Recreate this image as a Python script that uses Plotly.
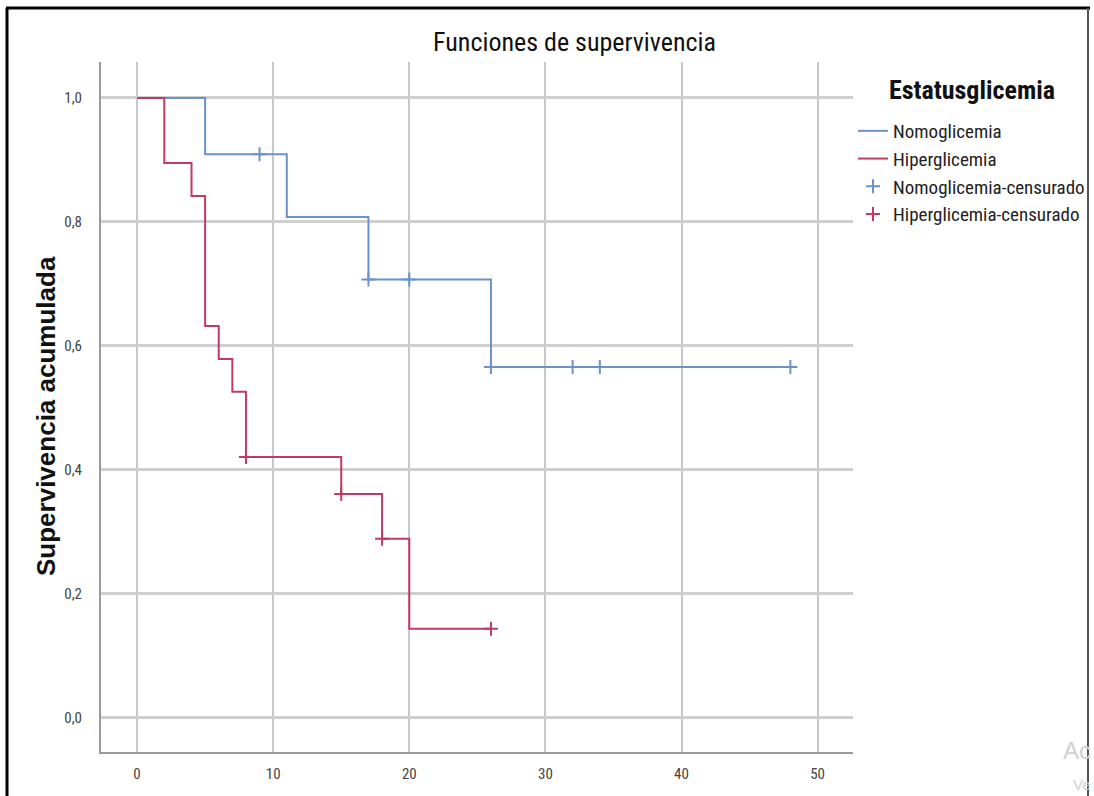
import plotly.graph_objects as go

# Kaplan-Meier step data (time, survival)
nomo_t = [0, 5, 11, 17, 26, 48]
nomo_s = [1.0, 0.909, 0.808, 0.707, 0.566, 0.566]
nomo_cens_t = [9, 17, 20, 26, 32, 34, 48]
nomo_cens_s = [0.909, 0.707, 0.707, 0.566, 0.566, 0.566, 0.566]

hiper_t = [0, 2, 4, 5, 6, 7, 8, 15, 18, 20, 26]
hiper_s = [1.0, 0.895, 0.842, 0.632, 0.579, 0.526, 0.421, 0.361, 0.289, 0.144, 0.144]
hiper_cens_t = [8, 15, 18, 26]
hiper_cens_s = [0.421, 0.361, 0.289, 0.144]

x_ticks = [0, 10, 20, 30, 40, 50]
y_ticks = [0.0, 0.2, 0.4, 0.6, 0.8, 1.0]

BLUE = "#6b93c8"
RED = "#c23a63"
NARROW = "Liberation Sans Narrow, Arial Narrow, Roboto Condensed, sans-serif"

fig = go.Figure()
fig.add_trace(go.Scatter(x=nomo_t, y=nomo_s, mode="lines", line_shape="hv",
                         line=dict(color=BLUE, width=2), name="Nomoglicemia"))
fig.add_trace(go.Scatter(x=hiper_t, y=hiper_s, mode="lines", line_shape="hv",
                         line=dict(color=RED, width=2), name="Hiperglicemia"))
fig.add_trace(go.Scatter(x=nomo_cens_t, y=nomo_cens_s, mode="markers",
                         marker=dict(symbol="cross-thin", size=10, line=dict(color=BLUE, width=2)),
                         name="Nomoglicemia-censurado"))
fig.add_trace(go.Scatter(x=hiper_cens_t, y=hiper_cens_s, mode="markers",
                         marker=dict(symbol="cross-thin", size=10, line=dict(color=RED, width=2)),
                         name="Hiperglicemia-censurado"))

fig.update_layout(
    width=1094, height=796,
    margin=dict(l=101, r=241, t=62, b=44, autoexpand=False),
    paper_bgcolor="white", plot_bgcolor="white",
    separators=",.",
    title=dict(text="Funciones de supervivencia", x=(432 + 717) / 2 / 1094, xanchor="center",
               y=1 - 42 / 796, yanchor="middle",
               font=dict(family=NARROW, size=26, color="#111")),
    xaxis=dict(range=[-2.65, 52.6], tickvals=x_ticks, showgrid=True, gridcolor="#c8c8c8",
               gridwidth=1.5, zeroline=False, showline=True, linecolor="#9a9a9a", linewidth=2,
               ticks="", ticklabelstandoff=7, tickfont=dict(family=NARROW, size=15, color="#444")),
    yaxis=dict(range=[-0.055, 1.058], tickvals=y_ticks, tickformat=".1f", showgrid=True,
               gridcolor="#cfcfcf", gridwidth=2.5, zeroline=False, showline=True,
               linecolor="#9a9a9a", linewidth=2, ticks="", ticklabelstandoff=14,
               tickfont=dict(family=NARROW, size=15, color="#444")),
    legend=dict(x=1.0, xanchor="left", y=1 - (112 - 62) / 690, yanchor="top",
                font=dict(family=NARROW, size=19, color="#222"),
                tracegroupgap=0, itemwidth=30, bgcolor="rgba(0,0,0,0)"),
    showlegend=True,
)

def px(xp):
    return (xp - 101) / 752

def py(yp):
    return (752 - yp) / 690

# y-axis title
fig.add_annotation(text="<b>Supervivencia acumulada</b>", xref="paper", yref="paper",
                   x=px(46), y=py(416), xanchor="center", yanchor="middle", textangle=-90,
                   showarrow=False,
                   font=dict(family="Liberation Sans, Arial, sans-serif", size=26, color="#111"))

# legend title
fig.add_annotation(text="<b>Estatusglicemia</b>", xref="paper", yref="paper",
                   x=px(972), y=py(90), xanchor="center", yanchor="middle",
                   showarrow=False, font=dict(family=NARROW, size=26, color="#111"))

# watermark remnants
fig.add_annotation(text="Ac", xref="paper", yref="paper", x=px(1093), y=py(750),
                   xanchor="right", yanchor="middle", showarrow=False,
                   font=dict(family="Liberation Sans, sans-serif", size=24, color="#d0d0d0"))
fig.add_annotation(text="Ve", xref="paper", yref="paper", x=px(1093), y=py(784),
                   xanchor="right", yanchor="middle", showarrow=False,
                   font=dict(family="Liberation Sans, sans-serif", size=15, color="#d0d0d0"))

# outer frame of the screenshot
fig.add_shape(type="line", xref="paper", yref="paper", x0=px(6), x1=px(1090), y0=py(8), y1=py(8),
              line=dict(color="black", width=3))
fig.add_shape(type="line", xref="paper", yref="paper", x0=px(7), x1=px(7), y0=py(8), y1=py(800),
              line=dict(color="black", width=3))
fig.add_shape(type="line", xref="paper", yref="paper", x0=px(1088), x1=px(1088), y0=py(8), y1=py(800),
              line=dict(color="#555", width=2))

fig.write_html("out.html", config={"displayModeBar": False},
               post_script="document.body.style.margin='0';")
